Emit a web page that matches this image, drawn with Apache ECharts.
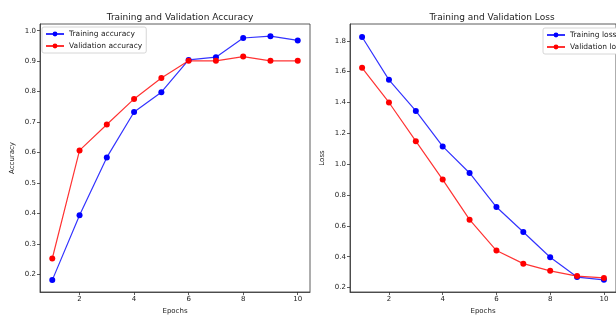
<!DOCTYPE html>
<html>
<head>
<meta charset="utf-8">
<script src="https://cdn.jsdelivr.net/npm/echarts@6/dist/echarts.min.js"></script>
<style>
  html, body { margin: 0; padding: 0; background: #fff; }
  #chart { width: 616px; height: 320px; }
</style>
</head>
<body>
<div id="chart"></div>
<script>
var epochs = [1, 2, 3, 4, 5, 6, 7, 8, 9, 10];
var trainAcc = [0.181, 0.394, 0.584, 0.733, 0.798, 0.904, 0.913, 0.976, 0.982, 0.968];
var valAcc = [0.252, 0.607, 0.692, 0.776, 0.845, 0.901, 0.901, 0.915, 0.901, 0.901];
var trainLoss = [1.825, 1.547, 1.345, 1.115, 0.943, 0.722, 0.560, 0.396, 0.268, 0.250];
var valLoss = [1.625, 1.400, 1.149, 0.900, 0.640, 0.440, 0.355, 0.308, 0.274, 0.262];
var xTicks = [2, 4, 6, 8, 10];
var accTicks = [0.2, 0.3, 0.4, 0.5, 0.6, 0.7, 0.8, 0.9, 1.0];
var lossTicks = [0.2, 0.4, 0.6, 0.8, 1.0, 1.2, 1.4, 1.6, 1.8];

function pairs(ys) {
  return epochs.map(function (x, i) { return [x, ys[i]]; });
}

var font = 'DejaVu Sans';
var txt = '#222';

function xAxisOf(idx) {
  return {
    type: 'value', gridIndex: idx, min: 0.55, max: 10.45,
    name: 'Epochs', nameLocation: 'middle', nameGap: 16,
    nameTextStyle: { fontFamily: font, fontSize: 7, color: txt },
    splitLine: { show: false },
    axisLine: { show: true, onZero: false, lineStyle: { color: '#333', width: 0.8 } },
    axisTick: { show: true, length: 3, customValues: xTicks, lineStyle: { color: '#333', width: 0.8 } },
    axisLabel: { customValues: xTicks, fontFamily: font, fontSize: 7, color: txt, margin: 4 }
  };
}

function yAxisOf(idx, name, min, max, ticks, dec) {
  return {
    type: 'value', gridIndex: idx, min: min, max: max,
    name: name, nameLocation: 'middle', nameGap: 24,
    nameTextStyle: { fontFamily: font, fontSize: 7, color: txt },
    splitLine: { show: false },
    axisLine: { show: true, onZero: false, lineStyle: { color: '#333', width: 0.8 } },
    axisTick: { show: true, length: 3, customValues: ticks, lineStyle: { color: '#333', width: 0.8 } },
    axisLabel: {
      customValues: ticks, fontFamily: font, fontSize: 7, color: txt, margin: 4,
      formatter: function (v) { return v.toFixed(dec); }
    }
  };
}

function lineOf(name, color, idx, ys) {
  return {
    name: name, type: 'line', xAxisIndex: idx, yAxisIndex: idx,
    data: pairs(ys),
    symbol: 'circle', symbolSize: 6,
    lineStyle: { color: color, width: 1.2, opacity: 0.8 },
    itemStyle: { color: color },
    animation: false
  };
}

var legendBase = {
  orient: 'vertical', itemWidth: 18, itemHeight: 6, itemGap: 4,
  backgroundColor: '#fff', borderColor: '#ccc', borderWidth: 0.8, borderRadius: 2,
  padding: [3, 4, 3, 3],
  textStyle: { fontFamily: font, fontSize: 7.5, color: txt }
};

var chart = echarts.init(document.getElementById('chart'), null, { renderer: 'canvas' });
chart.setOption({
  animation: false,
  title: [
    { text: 'Training and Validation Accuracy', left: 175, top: 8, textAlign: 'center',
      textStyle: { fontFamily: font, fontSize: 9, fontWeight: 'normal', color: txt } },
    { text: 'Training and Validation Loss', left: 487, top: 8, textAlign: 'center',
      textStyle: { fontFamily: font, fontSize: 9, fontWeight: 'normal', color: txt } }
  ],
  grid: [
    { left: 40, top: 24, width: 270, height: 273, show: true, borderColor: '#333', borderWidth: 0.8 },
    { left: 350, top: 24, width: 275, height: 273, show: true, borderColor: '#333', borderWidth: 0.8 }
  ],
  legend: [
    Object.assign({}, legendBase, { left: 42, top: 27, data: ['Training accuracy', 'Validation accuracy'] }),
    Object.assign({}, legendBase, { left: 543, top: 28, data: ['Training loss', 'Validation loss'] })
  ],
  xAxis: [xAxisOf(0), xAxisOf(1)],
  yAxis: [
    yAxisOf(0, 'Accuracy', 0.142, 1.022, accTicks, 1),
    yAxisOf(1, 'Loss', 0.171, 1.909, lossTicks, 1)
  ],
  series: [
    lineOf('Training accuracy', '#0000ff', 0, trainAcc),
    lineOf('Validation accuracy', '#ff0000', 0, valAcc),
    lineOf('Training loss', '#0000ff', 1, trainLoss),
    lineOf('Validation loss', '#ff0000', 1, valLoss)
  ]
});
</script>
</body>
</html>
